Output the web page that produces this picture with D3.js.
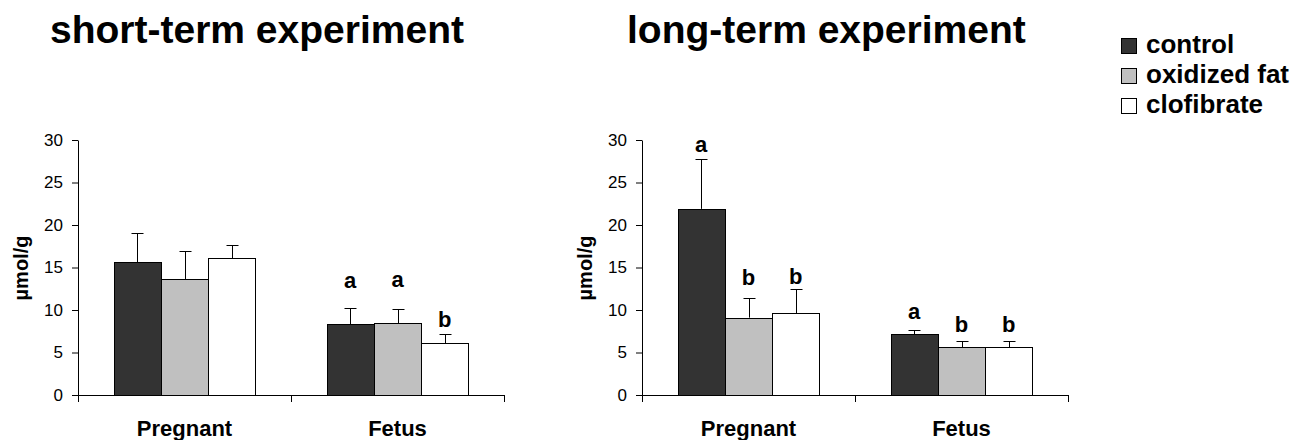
<!DOCTYPE html>
<html>
<head>
<meta charset="utf-8">
<script src="https://cdn.jsdelivr.net/npm/d3@7"></script>
<style>
  body { margin: 0; background: #fff; }
  text { font-family: "Liberation Sans", Arial, sans-serif; }
</style>
</head>
<body>
<div id="chart"></div>
<script>
// categories and series
const categories = ["Pregnant", "Fetus"];
const series = ["control", "oxidized fat", "clofibrate"];
const seriesColors = ["#333333", "#c0c0c0", "#ffffff"];
const yTicks = [0, 5, 10, 15, 20, 25, 30];

// short-term experiment (means, SD)
const shortControl = [15.6, 8.35];
const shortOxidized = [13.65, 8.45];
const shortClofibrate = [16.1, 6.1];
const shortControlSd = [3.45, 1.9];
const shortOxidizedSd = [3.25, 1.7];
const shortClofibrateSd = [1.5, 1.1];
// significance letters and the height (µmol/g) where they sit
const shortLetters = [["", "", ""], ["a", "a", "b"]];
const shortLetterAt = [[0, 0, 0], [12.55, 12.75, 8.05]];

// long-term experiment
const longControl = [21.9, 7.15];
const longOxidized = [9.1, 5.6];
const longClofibrate = [9.6, 5.6];
const longControlSd = [5.9, 0.5];
const longOxidizedSd = [2.35, 0.7];
const longClofibrateSd = [2.85, 0.7];
const longLetters = [["a", "b", "b"], ["a", "b", "b"]];
const longLetterAt = [[28.55, 12.9, 13.05], [8.95, 7.4, 7.4]];

const width = 1297, height = 440;

const svg = d3.select("#chart").append("svg")
    .attr("width", width)
    .attr("height", height);

function drawPanel(opts) {
    const x0 = d3.scaleBand()
        .domain(categories)
        .range([opts.left, opts.left + 426])
        .padding(0);
    const bw = x0.bandwidth();
    const x1 = d3.scaleBand()
        .domain(series)
        .range([bw / 6, bw * 5 / 6])
        .padding(0);
    const y = d3.scaleLinear()
        .domain([0, 30])
        .range([395, 140]);

    const g = svg.append("g");

    // title
    svg.append("text")
        .attr("x", opts.titleX)
        .attr("y", 43)
        .attr("font-size", 39)
        .attr("font-weight", "bold")
        .text(opts.title);

    // y axis
    const yAxis = g.append("g")
        .attr("transform", "translate(" + opts.left + ",0)")
        .call(d3.axisLeft(y).tickValues(yTicks).tickSize(6).tickSizeOuter(0).tickPadding(9));
    yAxis.selectAll("text").attr("font-size", 17).attr("fill", "#000")
        .style("font-family", '"Liberation Sans", Arial, sans-serif');
    yAxis.selectAll("line, path").attr("stroke", "#000");

    // y label
    g.append("text")
        .attr("transform", "translate(" + (opts.left - 50) + ",268) rotate(-90)")
        .attr("text-anchor", "middle")
        .attr("font-size", 20)
        .attr("font-weight", "bold")
        .text("µmol/g");

    // bars
    const rows = [];
    categories.forEach(function(c, ci) {
        series.forEach(function(s, si) {
            rows.push({
                cat: c, ser: s, color: seriesColors[si],
                value: opts.values[si][ci],
                sd: opts.sds[si][ci],
                letter: opts.letters[ci][si],
                letterAt: opts.letterAt[ci][si]
            });
        });
    });

    g.selectAll("rect.bar")
        .data(rows)
        .join("rect")
        .attr("class", "bar")
        .attr("x", d => Math.round(x0(d.cat) + x1(d.ser)) + 0.5)
        .attr("y", d => Math.round(y(d.value)) + 0.5)
        .attr("width", Math.round(x1.bandwidth()))
        .attr("height", d => Math.round(y(0)) - Math.round(y(d.value)))
        .attr("fill", d => d.color)
        .attr("stroke", "#000")
        .attr("stroke-width", 1);

    // error bars
    const cx = d => Math.round(x0(d.cat) + x1(d.ser) + x1.bandwidth() / 2) + 0.5;
    g.selectAll("line.err")
        .data(rows)
        .join("line")
        .attr("class", "err")
        .attr("x1", cx).attr("x2", cx)
        .attr("y1", d => y(d.value))
        .attr("y2", d => Math.round(y(d.value + d.sd)) + 0.5)
        .attr("stroke", "#000");
    g.selectAll("line.cap")
        .data(rows)
        .join("line")
        .attr("class", "cap")
        .attr("x1", d => cx(d) - 6).attr("x2", d => cx(d) + 6)
        .attr("y1", d => Math.round(y(d.value + d.sd)) + 0.5)
        .attr("y2", d => Math.round(y(d.value + d.sd)) + 0.5)
        .attr("stroke", "#000");

    // significance letters
    g.selectAll("text.sig")
        .data(rows.filter(d => d.letter))
        .join("text")
        .attr("class", "sig")
        .attr("x", d => x0(d.cat) + x1(d.ser) + x1.bandwidth() / 2)
        .attr("y", d => y(d.letterAt))
        .attr("text-anchor", "middle")
        .attr("font-size", 22)
        .attr("font-weight", "bold")
        .text(d => d.letter);

    // x axis with ticks at the category boundaries
    const xAxis = g.append("g")
        .attr("transform", "translate(0,395)")
        .call(d3.axisBottom(x0).tickSize(0).tickSizeOuter(0).tickFormat(""));
    xAxis.select("path").attr("stroke", "#000");
    const bounds = categories.map(c => x0(c)).concat([x0.range()[1]]);
    g.selectAll("line.xtick")
        .data(bounds)
        .join("line")
        .attr("class", "xtick")
        .attr("x1", d => Math.round(d) + 0.5).attr("x2", d => Math.round(d) + 0.5)
        .attr("y1", 395).attr("y2", 402)
        .attr("stroke", "#000");
    g.selectAll("text.xlab")
        .data(categories)
        .join("text")
        .attr("class", "xlab")
        .attr("x", d => x0(d) + bw / 2)
        .attr("y", 436)
        .attr("text-anchor", "middle")
        .attr("font-size", 22)
        .attr("font-weight", "bold")
        .text(d => d);
}

drawPanel({
    left: 78, titleX: 50, title: "short-term experiment",
    values: [shortControl, shortOxidized, shortClofibrate],
    sds: [shortControlSd, shortOxidizedSd, shortClofibrateSd],
    letters: shortLetters, letterAt: shortLetterAt
});

drawPanel({
    left: 642, titleX: 627, title: "long-term experiment",
    values: [longControl, longOxidized, longClofibrate],
    sds: [longControlSd, longOxidizedSd, longClofibrateSd],
    letters: longLetters, letterAt: longLetterAt
});

// legend
const legend = svg.append("g").attr("transform", "translate(1121,38)");
const item = legend.selectAll("g")
    .data(series)
    .join("g")
    .attr("transform", (d, i) => "translate(0," + i * 30 + ")");
item.append("rect")
    .attr("x", 0.5).attr("y", 0.5)
    .attr("width", 15).attr("height", 15)
    .attr("fill", (d, i) => seriesColors[i])
    .attr("stroke", "#000");
item.append("text")
    .attr("x", 25)
    .attr("y", 15)
    .attr("font-size", 26)
    .attr("font-weight", "bold")
    .text(d => d);
</script>
</body>
</html>
